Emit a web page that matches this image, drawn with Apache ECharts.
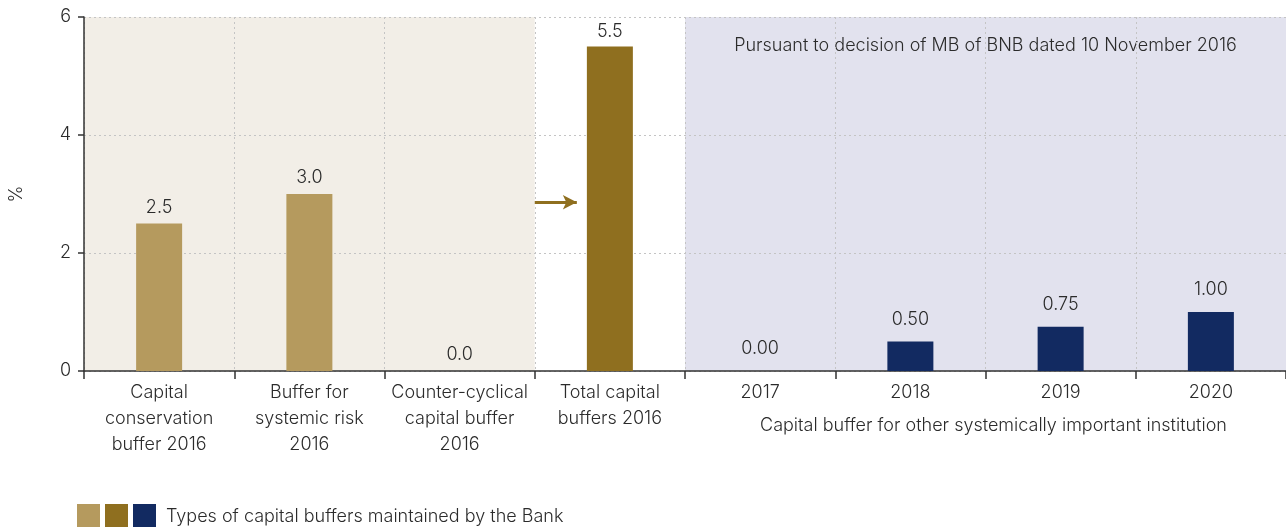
<!DOCTYPE html>
<html>
<head>
<meta charset="utf-8">
<script src="https://cdn.jsdelivr.net/npm/echarts@6/dist/echarts.min.js"></script>
<style>
  html, body { margin: 0; padding: 0; background: #fff; }
  #chart { width: 1286px; height: 527px; }
</style>
</head>
<body>
<div id="chart"></div>
<script>
// Category labels along the horizontal axis
const categories = [
  'Capital\nconservation\nbuffer 2016',
  'Buffer for\nsystemic risk\n2016',
  'Counter-cyclical\ncapital buffer\n2016',
  'Total capital\nbuffers 2016',
  '2017', '2018', '2019', '2020'
];

// Individual buffers in 2016 (%)
const buffers2016 = [2.5, 3.0, 0.0, null, null, null, null, null];
// Sum of the 2016 buffers (%)
const total2016 = [null, null, null, 5.5, null, null, null, null];
// O-SII buffer schedule (%)
const osiiBuffer = [null, null, null, null, 0.00, 0.50, 0.75, 1.00];

// Y axis range and step
const yMin = 0, yMax = 6, yStep = 2;

// Shaded bands, in category slots (0 = left edge of the first category)
const band2016 = [0, 3];
const bandOsii = [4, 8];
// Arrow pointing at the total bar: start/end slot and level (%)
const arrowSlots = [3, 3.28];
const arrowLevel = 2.86;

const textMain = 'Pursuant to decision of MB of BNB dated 10 November 2016';
const textBelow = 'Capital buffer for other systemically important institution';
const legendText = 'Types of capital buffers maintained by the Bank';

const C_TAN = '#b59a5e', C_BROWN = '#8f6f1f', C_NAVY = '#122a61';
const FONT = 'Inter, "Liberation Sans", sans-serif';
const FS = 18;
const FW = 300;
const TXT = '#2b2b2b';

const chart = echarts.init(document.getElementById('chart'), null, { renderer: 'canvas' });

const labelCfg = (decimals, dist) => ({
  show: true,
  position: 'top',
  distance: dist,
  color: TXT,
  fontFamily: FONT,
  fontSize: FS,
  fontWeight: FW,
  formatter: p => (p.value == null ? '' : Number(p.value).toFixed(decimals))
});

const gridLine = { color: '#c4c4c4', type: [2, 3], width: 1 };

const option = {
  animation: false,
  textStyle: { fontFamily: FONT },
  grid: { left: 80, right: 0, top: 17, bottom: 156, containLabel: false },
  xAxis: [
    {
      type: 'category',
      data: categories,
      z: 1,
      axisLine: { lineStyle: { color: '#333', width: 1.5 } },
      axisTick: { show: true, length: 8, lineStyle: { color: '#333', width: 1.5 } },
      axisLabel: { color: TXT, fontFamily: FONT, fontSize: FS, fontWeight: FW, lineHeight: 26, margin: 9, interval: 0 },
      splitLine: { show: true, interval: 0, lineStyle: gridLine }
    },
    { type: 'value', min: 0, max: 8, show: false }
  ],
  yAxis: {
    type: 'value',
    min: yMin, max: yMax, interval: yStep,
    z: 1,
    name: '%',
    nameLocation: 'middle',
    nameGap: 58,
    nameRotate: 90,
    nameTextStyle: { color: TXT, fontFamily: FONT, fontSize: FS, fontWeight: FW },
    axisLine: { show: true, lineStyle: { color: '#333', width: 1.5 } },
    axisTick: { show: true, length: 6, lineStyle: { color: '#333', width: 1.5 } },
    axisLabel: { color: TXT, fontFamily: FONT, fontSize: FS, fontWeight: FW, margin: 13 },
    splitLine: { show: true, lineStyle: gridLine }
  },
  series: [
    {
      // background bands and the arrow, drawn on the slot axis
      type: 'line',
      xAxisIndex: 1,
      data: [],
      z: -1,
      silent: true,
      markArea: {
        silent: true,
        z: -1,
        data: [
          [{ coord: [band2016[0], yMin], itemStyle: { color: '#f2eee7' } }, { coord: [band2016[1], yMax] }],
          [{
            coord: [bandOsii[0], yMin],
            itemStyle: { color: '#e2e2ee' },
            label: {
              show: true, position: 'insideTop', distance: 20,
              formatter: textMain, color: TXT, fontFamily: FONT, fontSize: FS, fontWeight: FW
            }
          }, { coord: [bandOsii[1], yMax] }]
        ]
      },
      markLine: {
        silent: true,
        z: 3,
        symbol: ['none', 'arrow'],
        symbolSize: [11, 14],
        label: { show: false },
        lineStyle: { color: C_BROWN, width: 3, type: 'solid' },
        data: [[{ coord: [arrowSlots[0], arrowLevel] }, { coord: [arrowSlots[1], arrowLevel] }]]
      }
    },
    {
      name: 'Buffers 2016', type: 'bar', stack: 'b', barWidth: 46,
      data: buffers2016, itemStyle: { color: C_TAN }, label: labelCfg(1, 7), z: 2
    },
    {
      name: 'Total 2016', type: 'bar', stack: 'b', barWidth: 46,
      data: total2016, itemStyle: { color: C_BROWN }, label: labelCfg(1, 6), z: 2
    },
    {
      name: 'O-SII buffer', type: 'bar', stack: 'b', barWidth: 46,
      data: osiiBuffer, itemStyle: { color: C_NAVY }, label: labelCfg(2, 13), z: 2
    }
  ]
};

chart.setOption(option);

// Caption under the O-SII years and the legend row
const centerX = chart.convertToPixel({ xAxisIndex: 1 }, (bandOsii[0] + bandOsii[1]) / 2);
const swatches = [C_TAN, C_BROWN, C_NAVY];
const textFont = FW + ' ' + FS + 'px ' + FONT;
chart.setOption({
  graphic: [
    {
      type: 'text', x: centerX + 8, y: 426,
      style: { text: textBelow, fill: TXT, font: textFont, textAlign: 'center', textVerticalAlign: 'middle' }
    },
    ...swatches.map((c, i) => ({
      type: 'rect', shape: { x: 77 + i * 28, y: 504, width: 23, height: 23 }, style: { fill: c }
    })),
    {
      type: 'text', x: 166, y: 517,
      style: { text: legendText, fill: TXT, font: textFont, textAlign: 'left', textVerticalAlign: 'middle' }
    }
  ]
});
</script>
</body>
</html>
